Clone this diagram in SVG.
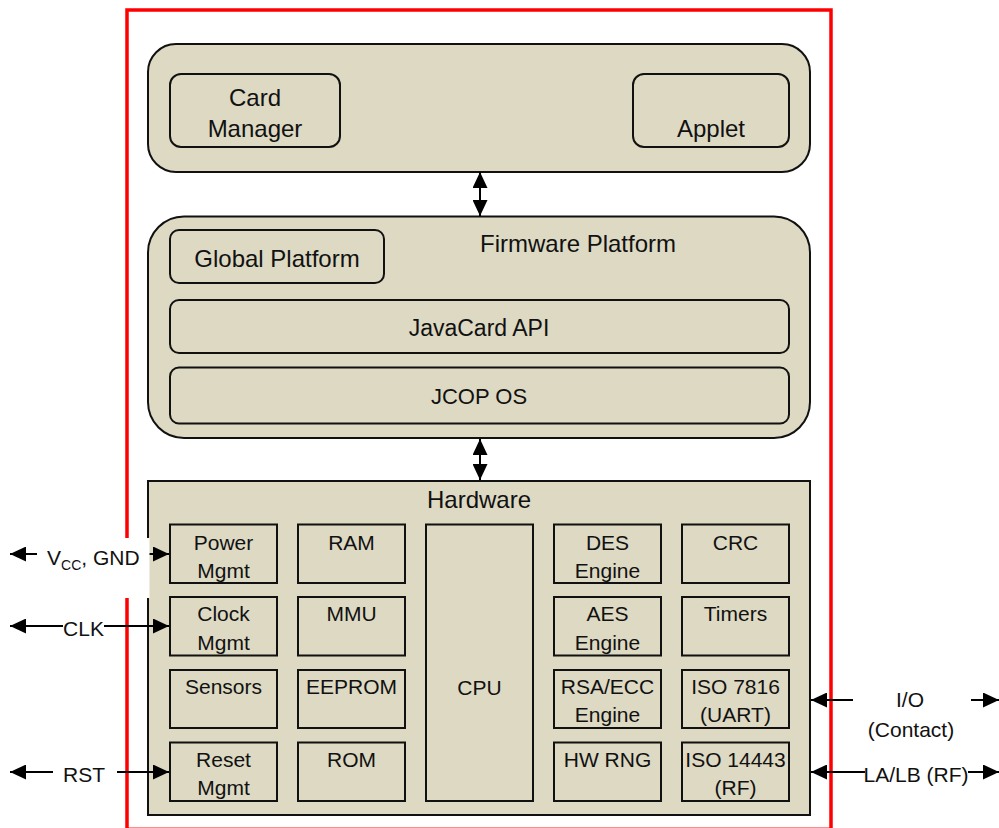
<svg xmlns="http://www.w3.org/2000/svg" width="999" height="828" viewBox="0 0 999 828">
<style>
text{font-family:"Liberation Sans",Arial,sans-serif;fill:#111;text-anchor:middle}
.big{font-size:24px}
.mid{font-size:23px}
.cap{font-size:22px}
.cell{font-size:21px}
.lbl{font-size:21px}
.box{fill:#ddd9c3;stroke:#111;stroke-width:2}
.frame{fill:none;stroke:#ff0000;stroke-width:3.5}
.conn{stroke:#000;stroke-width:2;fill:none;marker-start:url(#ah);marker-end:url(#ah)}
.bg{fill:#fff;stroke:none}
</style>
<defs>
<marker id="ah" viewBox="0 0 16 15" refX="16" refY="7.5" markerWidth="16" markerHeight="15" markerUnits="userSpaceOnUse" orient="auto-start-reverse">
<path d="M0,0 L16,7.5 L0,15 z" fill="#000"/>
</marker>
</defs>
<rect width="999" height="828" fill="#fff"/>
<rect class="frame" x="127" y="10" width="704" height="819.3"/>

<g id="applications">
<rect class="box" x="148" y="44" width="662" height="128" rx="28"/>
</g>
<g id="card-manager">
<rect class="box" x="170" y="74" width="170" height="73" rx="11"/>
<text class="big" x="255" y="106">Card</text>
<text class="big" x="255" y="137">Manager</text>
</g>
<g id="applet">
<rect class="box" x="633" y="74" width="156" height="73" rx="11"/>
<text class="big" x="711" y="137">Applet</text>
</g>

<g id="firmware-platform">
<rect class="box" x="148" y="216.5" width="662" height="221.5" rx="36"/>
<text class="big" x="578" y="252">Firmware Platform</text>
</g>
<g id="global-platform">
<rect class="box" x="170" y="230" width="214" height="53" rx="9"/>
<text class="big" x="277" y="267">Global Platform</text>
</g>
<g id="javacard-api">
<rect class="box" x="170" y="300" width="619" height="53" rx="9"/>
<text class="mid" x="479" y="336">JavaCard API</text>
</g>
<g id="jcop-os">
<rect class="box" x="170" y="367.5" width="619" height="56" rx="9"/>
<text class="cap" x="479" y="404">JCOP OS</text>
</g>

<g id="hardware">
<rect class="box" x="148" y="481" width="662" height="334"/>
<text class="big" x="479" y="508">Hardware</text>
</g>

<g id="power-mgmt"><rect class="box" x="170" y="524.5" width="107" height="58.5"/><text class="cell" x="223.5" y="550">Power</text><text class="cell" x="223.5" y="578">Mgmt</text></g>
<g id="clock-mgmt"><rect class="box" x="170" y="597" width="107" height="58.5"/><text class="cell" x="223.5" y="621">Clock</text><text class="cell" x="223.5" y="650">Mgmt</text></g>
<g id="sensors"><rect class="box" x="170" y="670" width="107" height="58"/><text class="cell" x="223.5" y="694">Sensors</text></g>
<g id="reset-mgmt"><rect class="box" x="170" y="742.5" width="107" height="58.5"/><text class="cell" x="223.5" y="767">Reset</text><text class="cell" x="223.5" y="795">Mgmt</text></g>

<g id="ram"><rect class="box" x="298" y="524.5" width="107" height="58.5"/><text class="cell" x="351.5" y="550">RAM</text></g>
<g id="mmu"><rect class="box" x="298" y="597" width="107" height="58.5"/><text class="cell" x="351.5" y="621">MMU</text></g>
<g id="eeprom"><rect class="box" x="298" y="670" width="107" height="58"/><text class="cell" x="351.5" y="694">EEPROM</text></g>
<g id="rom"><rect class="box" x="298" y="742.5" width="107" height="58.5"/><text class="cell" x="351.5" y="767">ROM</text></g>

<g id="cpu"><rect class="box" x="426" y="524.5" width="107" height="276.5"/><text class="cell" x="479.5" y="695">CPU</text></g>

<g id="des"><rect class="box" x="554" y="524.5" width="107" height="58.5"/><text class="cell" x="607.5" y="550">DES</text><text class="cell" x="607.5" y="578">Engine</text></g>
<g id="aes"><rect class="box" x="554" y="597" width="107" height="58.5"/><text class="cell" x="607.5" y="621">AES</text><text class="cell" x="607.5" y="650">Engine</text></g>
<g id="rsa-ecc"><rect class="box" x="554" y="670" width="107" height="58"/><text class="cell" x="607.5" y="694">RSA/ECC</text><text class="cell" x="607.5" y="722">Engine</text></g>
<g id="hw-rng"><rect class="box" x="554" y="742.5" width="107" height="58.5"/><text class="cell" x="607.5" y="767">HW RNG</text></g>

<g id="crc"><rect class="box" x="682" y="524.5" width="107" height="58.5"/><text class="cell" x="735.5" y="550">CRC</text></g>
<g id="timers"><rect class="box" x="682" y="597" width="107" height="58.5"/><text class="cell" x="735.5" y="621">Timers</text></g>
<g id="iso7816"><rect class="box" x="682" y="670" width="107" height="58"/><text class="cell" x="735.5" y="694">ISO 7816</text><text class="cell" x="735.5" y="722">(UART)</text></g>
<g id="iso14443"><rect class="box" x="682" y="742.5" width="107" height="58.5"/><text class="cell" x="735.5" y="767">ISO 14443</text><text class="cell" x="735.5" y="795">(RF)</text></g>

<g id="connectors">
<line class="conn" x1="480" y1="172" x2="480" y2="216"/>
<line class="conn" x1="480" y1="439" x2="480" y2="480"/>

<line class="conn" x1="10" y1="554" x2="169" y2="554"/>
<rect class="bg" x="37" y="538" width="112.5" height="60"/>
<text class="lbl" x="47" y="565" style="text-anchor:start">V<tspan font-size="14" dy="5">CC</tspan><tspan dy="-5">, GND</tspan></text>

<line class="conn" x1="10" y1="626" x2="169" y2="626"/>
<rect class="bg" x="63" y="612" width="41" height="28"/>
<text class="lbl" x="83.5" y="636">CLK</text>

<line class="conn" x1="10" y1="772" x2="169" y2="772"/>
<rect class="bg" x="53" y="757" width="64" height="30"/>
<text class="lbl" x="84" y="782">RST</text>

<line class="conn" x1="811" y1="700" x2="999" y2="700"/>
<rect class="bg" x="853" y="684" width="118" height="60"/>
<text class="lbl" x="910" y="707">I/O</text>
<text class="lbl" x="911" y="737">(Contact)</text>

<line class="conn" x1="811" y1="772" x2="999" y2="772"/>
<rect class="bg" x="865" y="758" width="103" height="30"/>
<text class="lbl" x="916" y="782">LA/LB (RF)</text>
</g>
</svg>
